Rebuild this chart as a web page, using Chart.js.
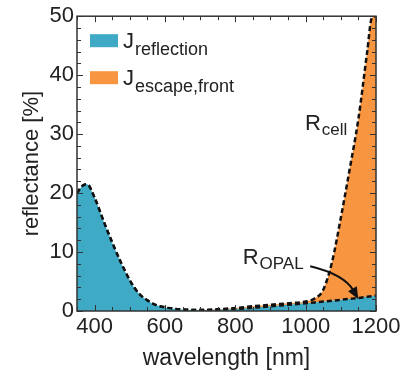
<!DOCTYPE html>
<html>
<head>
<meta charset="utf-8">
<script src="https://cdn.jsdelivr.net/npm/chart.js@4"></script>
<style>
  html, body { margin: 0; padding: 0; background: #fff; }
  #wrap { width: 407px; height: 379px; }
</style>
</head>
<body>
<div id="wrap"><canvas id="reflectance"></canvas></div>
<script>
// Wellenlaengen [nm] und Reflexion [%]
const wavelength = [350, 365, 378, 400, 425, 450, 475, 500, 525, 550, 575, 600, 650, 700, 750, 800, 850, 900, 950, 1000, 1025, 1050, 1075, 1100, 1125, 1150, 1175, 1188, 1200];
const rCell = [20.0, 21.2, 21.5, 19.2, 15.3, 11.6, 8.2, 5.2, 3.0, 1.8, 1.0, 0.6, 0.25, 0.15, 0.3, 0.5, 0.8, 1.05, 1.3, 1.6, 2.1, 3.6, 8.3, 15.8, 24.0, 32.6, 44.0, 49.7, 50.0];
const rOpal = [20.0, 21.2, 21.5, 19.2, 15.3, 11.6, 8.2, 5.2, 3.0, 1.8, 1.0, 0.6, 0.25, 0.15, 0.2, 0.35, 0.55, 0.8, 1.05, 1.3, 1.45, 1.6, 1.75, 1.9, 2.05, 2.2, 2.4, 2.5, 2.6];

const xTicks = [400, 600, 800, 1000, 1200];
const yTicks = [0, 10, 20, 30, 40, 50];
const legendLabels = [['J', 'reflection'], ['J', 'escape,front']];

const blue = 'rgb(62, 170, 197)';
const orange = 'rgb(247, 149, 64)';
const ink = '#222';
const FONT = '"Liberation Sans", Arial, sans-serif';

// Text mit Index (tiefgestellt)
function drawSub(ctx, main, sub, x, y, size, subSize, drop) {
  ctx.font = size + 'px ' + FONT;
  ctx.fillText(main, x, y);
  const w = ctx.measureText(main).width;
  ctx.font = subSize + 'px ' + FONT;
  ctx.fillText(sub, x + w + 1, y + drop);
}

// Rahmen und Ticks nach innen
const framePlugin = {
  id: 'frame',
  afterDatasetsDraw(chart) {
    const {ctx, chartArea: a, scales: {x, y}} = chart;
    ctx.save();
    ctx.strokeStyle = '#333';
    ctx.lineWidth = 1.5;
    ctx.strokeRect(a.left, a.top, a.right - a.left, a.bottom - a.top);
    ctx.lineWidth = 1;
    ctx.beginPath();
    for (let v = 350; v <= 1200; v += 50) {
      const px = Math.round(x.getPixelForValue(v)) + 0.5;
      const len = v % 200 === 0 ? 6 : 4;
      ctx.moveTo(px, a.bottom); ctx.lineTo(px, a.bottom - len);
      ctx.moveTo(px, a.top); ctx.lineTo(px, a.top + len);
    }
    for (let v = 0; v <= 50; v += 2) {
      const py = Math.round(y.getPixelForValue(v)) + 0.5;
      const len = v % 10 === 0 ? 6 : 4;
      ctx.moveTo(a.left, py); ctx.lineTo(a.left + len, py);
      ctx.moveTo(a.right, py); ctx.lineTo(a.right - len, py);
    }
    ctx.stroke();
    ctx.restore();
  },
  afterDraw(chart) {
    const {ctx, chartArea: a, scales: {x, y}} = chart;
    ctx.save();
    ctx.fillStyle = ink;
    ctx.textBaseline = 'alphabetic';

    // Legende
    const boxColors = [blue, orange];
    legendLabels.forEach((l, i) => {
      const top = a.top + 18 + i * 37;
      ctx.fillStyle = boxColors[i];
      ctx.fillRect(a.left + 13, top, 28, 13);
      ctx.fillStyle = ink;
      drawSub(ctx, l[0], l[1], a.left + 46, top + 14, 22, 18, 7);
    });

    // Kurvenbeschriftung
    drawSub(ctx, 'R', 'cell', x.getPixelForValue(998), y.getPixelForValue(30.7), 22, 17, 5);
    drawSub(ctx, 'R', 'OPAL', x.getPixelForValue(821), y.getPixelForValue(8.05), 22, 17, 5);

    // Pfeil zu R_OPAL
    const sx = x.getPixelForValue(1013), sy = y.getPixelForValue(7.6);
    const cx = x.getPixelForValue(1110), cy = y.getPixelForValue(6.2);
    const ex = x.getPixelForValue(1147), ey = y.getPixelForValue(2.3);
    const ang = Math.atan2(ey - cy, ex - cx);
    const hx = ex - 8 * Math.cos(ang), hy = ey - 8 * Math.sin(ang);
    ctx.strokeStyle = '#111';
    ctx.lineWidth = 2;
    ctx.beginPath();
    ctx.moveTo(sx, sy);
    ctx.quadraticCurveTo(cx, cy, hx, hy);
    ctx.stroke();
    ctx.fillStyle = '#111';
    ctx.beginPath();
    ctx.moveTo(ex + 2 * Math.cos(ang), ey + 2 * Math.sin(ang));
    ctx.lineTo(hx - 5 * Math.sin(ang) - 2 * Math.cos(ang), hy + 5 * Math.cos(ang) - 2 * Math.sin(ang));
    ctx.lineTo(hx + 5 * Math.sin(ang) - 2 * Math.cos(ang), hy - 5 * Math.cos(ang) - 2 * Math.sin(ang));
    ctx.closePath();
    ctx.fill();
    ctx.restore();
  }
};

new Chart(document.getElementById('reflectance'), {
  type: 'line',
  data: {
    datasets: [{
      label: 'R_OPAL',
      data: wavelength.map((w, i) => ({x: w, y: rOpal[i]})),
      fill: 'origin',
      backgroundColor: blue,
      borderColor: '#111',
      borderWidth: 2.5,
      borderDash: [5, 3],
      pointRadius: 0,
      cubicInterpolationMode: 'monotone'
    }, {
      label: 'R_cell',
      data: wavelength.map((w, i) => ({x: w, y: rCell[i]})),
      fill: '-1',
      backgroundColor: orange,
      borderColor: '#111',
      borderWidth: 2.5,
      borderDash: [5, 3],
      pointRadius: 0,
      cubicInterpolationMode: 'monotone'
    }]
  },
  options: {
    responsive: true,
    maintainAspectRatio: false,
    animation: false,
    layout: { padding: { top: 13, right: 31, left: 0, bottom: 0 } },
    plugins: { legend: { display: false }, tooltip: { enabled: false } },
    scales: {
      x: {
        type: 'linear',
        min: 350,
        max: 1200,
        afterFit: s => { s.height = 68; },
        afterBuildTicks: s => { s.ticks = xTicks.map(v => ({value: v})); },
        grid: { display: false, drawTicks: false },
        border: { display: false },
        ticks: { color: ink, padding: 3, maxRotation: 0, callback: v => String(v), font: { family: FONT, size: 22 } },
        title: { display: true, text: 'wavelength [nm]', color: ink, padding: { bottom: 7 }, font: { family: FONT, size: 23 } }
      },
      y: {
        min: 0,
        max: 50,
        afterFit: s => { s.width = 77; },
        afterBuildTicks: s => { s.ticks = yTicks.map(v => ({value: v})); },
        grid: { display: false, drawTicks: false },
        border: { display: false },
        ticks: { color: ink, padding: 3, callback: v => String(v), font: { family: FONT, size: 22 } },
        title: { display: true, text: 'reflectance [%]', color: ink, padding: { top: 19 }, font: { family: FONT, size: 22 } }
      }
    }
  },
  plugins: [framePlugin]
});
</script>
</body>
</html>
